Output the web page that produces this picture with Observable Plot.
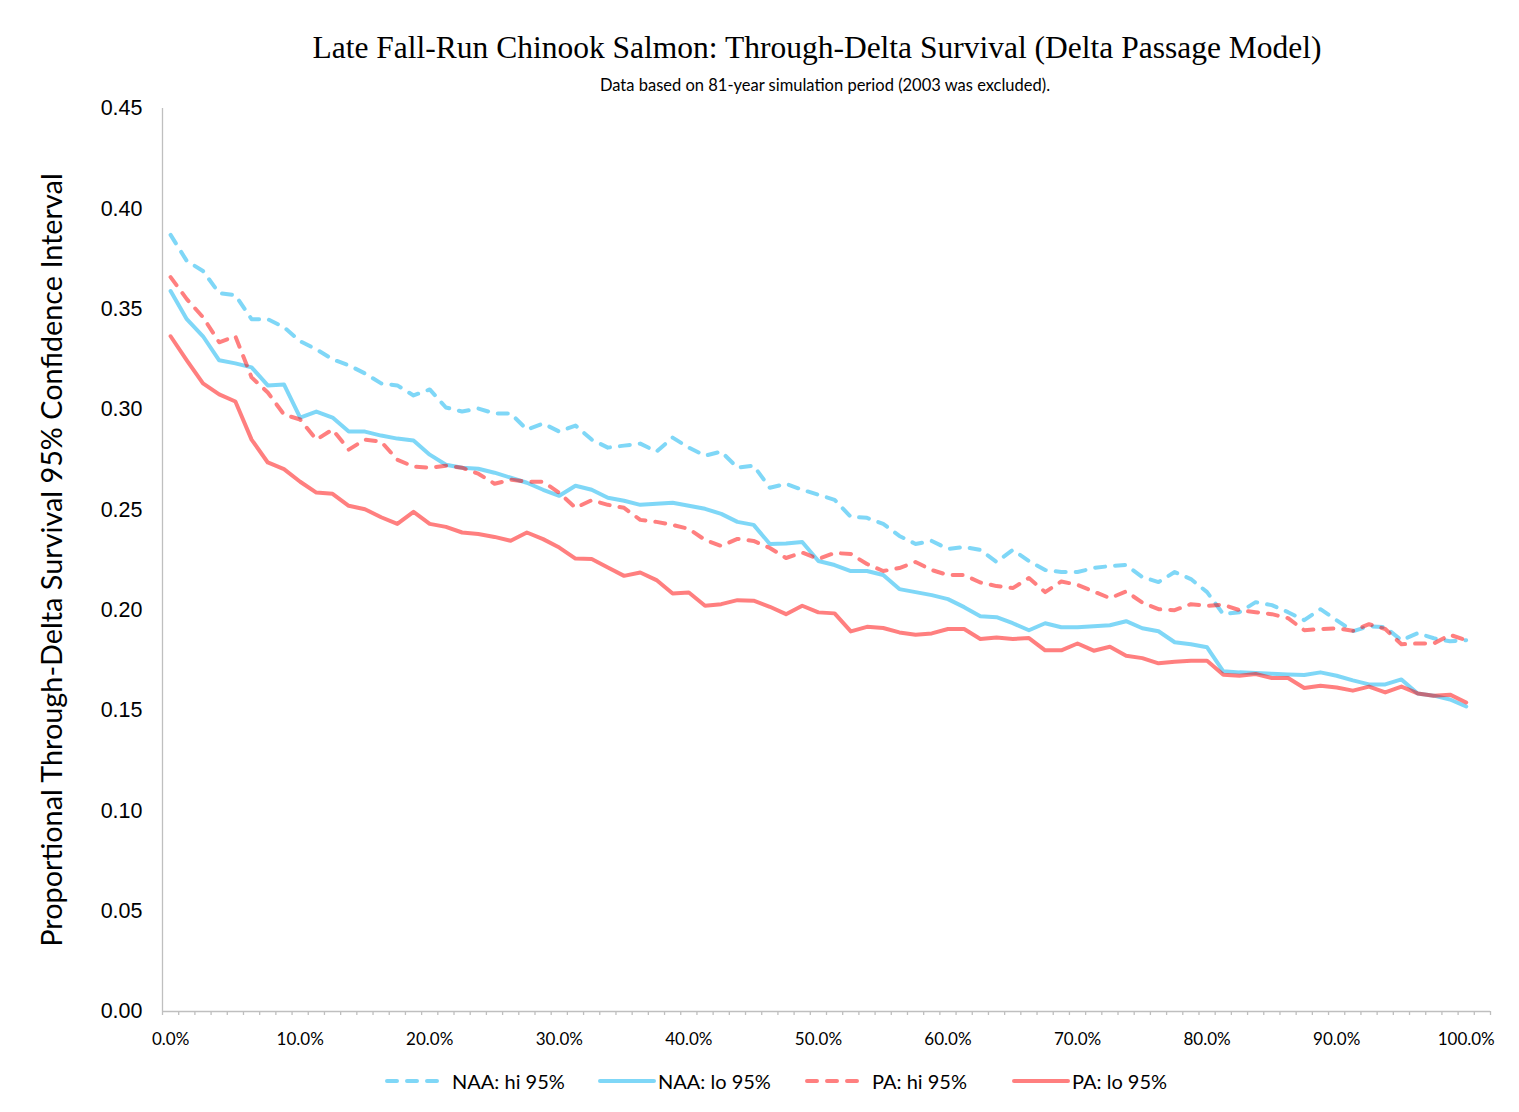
<!DOCTYPE html>
<html>
<head>
<meta charset="utf-8">
<script src="https://cdn.jsdelivr.net/npm/d3@7"></script>
<script src="https://cdn.jsdelivr.net/npm/@observablehq/plot@0.6"></script>
<style>
  body { margin: 0; background: #fff; }
  #wrap { position: relative; width: 1519px; background: #fff; }
  #head { position: relative; height: 95px; }
  #title { position: absolute; top: 29px; left: 817px; transform: translateX(-50%); white-space: nowrap;
           font-family: "Liberation Serif", serif; font-size: 31.5px; line-height: 38px; color: #000; }
  #subtitle { position: absolute; top: 75px; left: 825px; transform: translateX(-50%); white-space: nowrap;
              font-family: Lato, sans-serif; font-size: 16.5px; line-height: 20px; color: #000; }
  #legend { position: relative; height: 40px; }
  .item { position: absolute; top: 0; height: 40px; display: flex; align-items: center;
          font-family: Lato, sans-serif; font-size: 20px; color: #000; white-space: nowrap; }
  .item svg { display: block; }
</style>
</head>
<body>
<div id="wrap">
  <div id="head">
    <div id="title"></div>
    <div id="subtitle"></div>
  </div>
  <div id="chart"></div>
  <div id="legend"></div>
</div>
<script>
// ---- Data ----
const titleText = "Late Fall-Run Chinook Salmon: Through-Delta Survival (Delta Passage Model)";
const subtitleText = "Data based on 81-year simulation period (2003 was excluded).";
const yLabel = "Proportional Through-Delta Survival 95% Confidence Interval";

const seriesNames = ["NAA: hi 95%", "NAA: lo 95%", "PA: hi 95%", "PA: lo 95%"];

const naaHi = [0.387,0.374,0.369,0.358,0.357,0.345,0.345,0.341,0.334,0.330,0.325,0.322,0.318,0.313,
  0.312,0.307,0.310,0.301,0.299,0.3005,0.298,0.298,0.290,0.293,0.289,0.292,0.285,0.281,
  0.282,0.283,0.279,0.286,0.281,0.277,0.279,0.271,0.272,0.261,0.263,0.260,0.2575,0.255,
  0.2465,0.246,0.243,0.237,0.233,0.2345,0.2305,0.2315,0.230,0.224,0.230,0.2245,0.220,
  0.219,0.219,0.221,0.222,0.2225,0.2165,0.214,0.219,0.2155,0.209,0.198,0.199,0.204,0.2025,
  0.199,0.195,0.2005,0.195,0.1895,0.192,0.1915,0.185,0.1885,0.186,0.1845,0.185];

const naaLo = [0.359,0.345,0.3365,0.3245,0.323,0.321,0.312,0.3125,0.296,0.299,0.296,0.289,0.289,0.287,
  0.2855,0.2845,0.2775,0.2725,0.271,0.2705,0.2685,0.266,0.2635,0.260,0.257,0.262,0.260,0.256,
  0.2545,0.2525,0.253,0.2535,0.252,0.2505,0.248,0.244,0.2425,0.233,0.2332,0.234,0.2245,0.2225,
  0.2195,0.2195,0.2175,0.2105,0.209,0.2075,0.2055,0.2015,0.197,0.1965,0.1935,0.190,0.1935,
  0.1915,0.1915,0.192,0.1925,0.1945,0.191,0.1895,0.184,0.183,0.1815,0.1695,0.169,0.1687,0.1683,
  0.168,0.1677,0.169,0.1673,0.165,0.163,0.163,0.1655,0.1585,0.1574,0.1555,0.152];

const paHi = [0.366,0.355,0.346,0.3335,0.3365,0.316,0.3085,0.2975,0.295,0.285,0.290,0.280,0.285,0.284,
  0.275,0.2715,0.271,0.272,0.271,0.268,0.263,0.265,0.264,0.264,0.2585,0.251,0.2548,0.2525,
  0.251,0.245,0.244,0.2425,0.2405,0.235,0.232,0.2355,0.2345,0.231,0.226,0.2287,0.2255,0.2285,
  0.228,0.223,0.2195,0.221,0.224,0.220,0.2175,0.2175,0.2138,0.212,0.211,0.216,0.209,
  0.2143,0.2126,0.2093,0.206,0.2093,0.2038,0.2005,0.200,0.203,0.2022,0.2027,0.200,0.199,0.198,
  0.196,0.190,0.1906,0.191,0.1897,0.193,0.1906,0.183,0.1834,0.1834,0.1877,0.185];

const paLo = [0.3365,0.3245,0.313,0.3075,0.304,0.285,0.2736,0.2703,0.264,0.2586,0.258,0.252,0.2503,0.2463,
  0.243,0.249,0.243,0.2415,0.2387,0.238,0.2365,0.2346,0.2387,0.2354,0.2312,0.2257,0.2255,0.2213,
  0.2171,0.2188,0.215,0.2083,0.2088,0.2022,0.203,0.205,0.2047,0.2017,0.198,0.2022,0.1989,0.1984,
  0.1894,0.1917,0.1911,0.1889,0.1877,0.1884,0.1906,0.1906,0.1856,0.1864,0.1856,0.1861,0.180,
  0.180,0.1834,0.1798,0.1818,0.1773,0.1761,0.1735,0.1743,0.1748,0.1748,0.1678,0.1673,0.1682,0.1662,
  0.1662,0.1612,0.1623,0.1615,0.1599,0.1619,0.159,0.1619,0.1585,0.1574,0.1579,0.154];

const xTickValues = [0, 10, 20, 30, 40, 50, 60, 70, 80, 90, 100];
const yTickValues = [0, 0.05, 0.10, 0.15, 0.20, 0.25, 0.30, 0.35, 0.40, 0.45];

// ---- Build ----
const nCat = naaHi.length;           // 81 exceedance categories
const step = 100 / (nCat - 1);        // percent per category
const xMin = -step / 2;
const xMax = 100 + step * 1.5;        // category axis has one trailing empty slot
const xs = naaHi.map((_, i) => i * step);
const boundaries = d3.range(nCat + 2).map(k => xMin + k * step);

const blue = "#00B0F0", red = "#FF0000";
const series = [
  {name: seriesNames[0], values: naaHi, color: blue, dashed: true},
  {name: seriesNames[1], values: naaLo, color: blue, dashed: false},
  {name: seriesNames[2], values: paHi, color: red, dashed: true},
  {name: seriesNames[3], values: paLo, color: red, dashed: false}
];

document.getElementById("title").textContent = titleText;
document.getElementById("subtitle").textContent = subtitleText;

const lineMarks = series.map(s => Plot.line(xs.map((x, i) => ({x, y: s.values[i]})), {
  x: "x", y: "y", stroke: s.color, strokeOpacity: 0.5, strokeWidth: 4,
  strokeLinecap: "round", strokeLinejoin: "round",
  strokeDasharray: s.dashed ? "10,10" : null
}));

const chart = Plot.plot({
  width: 1519, height: 966,
  marginLeft: 162, marginRight: 29, marginTop: 13, marginBottom: 50,
  style: {background: "#fff", overflow: "visible"},
  x: {type: "linear", domain: [xMin, xMax]},
  y: {domain: [0, 0.45]},
  marks: [
    Plot.axisX({ticks: boundaries, tickSize: 4, stroke: "#bfbfbf", strokeWidth: 1.3, fill: "none", label: null}),
    Plot.axisX({ticks: xTickValues, tickSize: 0, tickPadding: 21, tickFormat: d => d.toFixed(1) + "%",
      fontSize: 17, fontFamily: "Lato", fill: "#000", label: null}),
    Plot.axisY({ticks: yTickValues, tickSize: 0, tickPadding: 20, tickFormat: d3.format(".2f"),
      fontSize: 21.5, fontFamily: "Liberation Sans", fill: "#000", label: null}),
    Plot.ruleX([xMin], {stroke: "#bfbfbf", strokeWidth: 1.3}),
    Plot.ruleY([0], {stroke: "#bfbfbf", strokeWidth: 1.3}),
    Plot.text([yLabel], {text: d => d, frameAnchor: "left", textAnchor: "middle", rotate: -90, dx: -110,
      fontSize: 28.8, fontFamily: "Lato", fill: "#000"}),
    ...lineMarks
  ]
});
document.getElementById("chart").appendChild(chart);

// ---- Legend ----
const legendLeft = [385, 598, 805, 1012];
const legend = d3.select("#legend");
series.forEach((s, i) => {
  const item = legend.append("div").attr("class", "item").style("left", legendLeft[i] + "px");
  const sw = item.append("svg").attr("width", 58).attr("height", 20)
    .style("margin-right", s.dashed ? "9px" : "2px");
  sw.append("line").attr("x1", 2).attr("x2", 56).attr("y1", 10).attr("y2", 10)
    .attr("stroke", s.color).attr("stroke-opacity", 0.5).attr("stroke-width", 4)
    .attr("stroke-linecap", "round")
    .attr("stroke-dasharray", s.dashed ? "10,10" : null);
  item.append("span").text(s.name);
});
</script>
</body>
</html>
